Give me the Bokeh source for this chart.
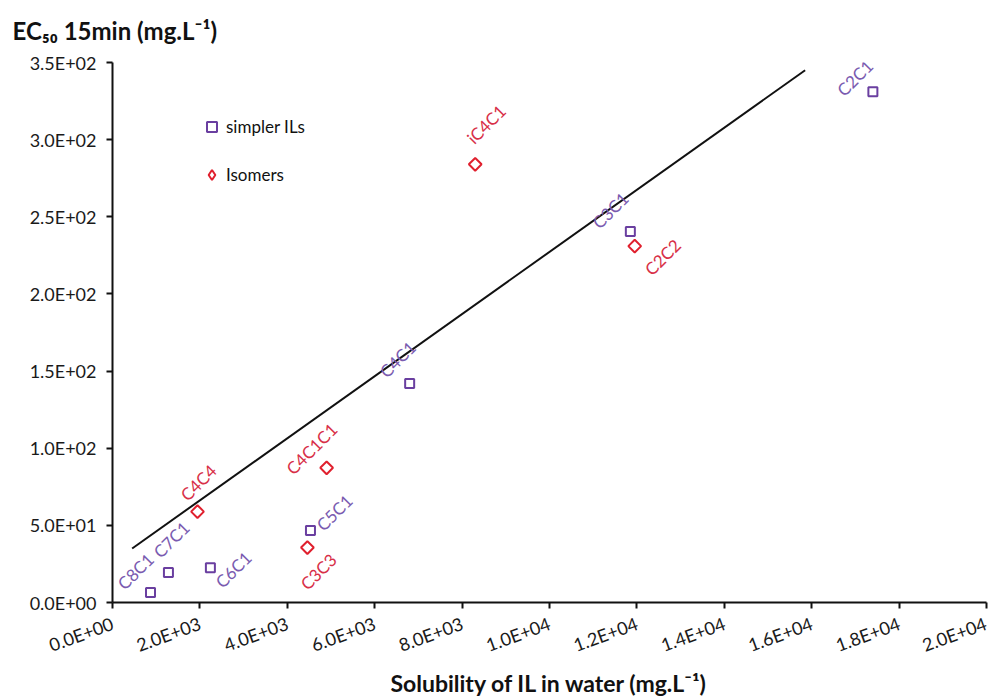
import numpy as np
from bokeh.plotting import figure
from bokeh.models import ColumnDataSource, FixedTicker, Legend, LegendItem, Range1d
from bokeh.core.properties import value
from bokeh.embed import file_html
from bokeh.resources import INLINE

# ---- data ----
simple_names = ["C8C1", "C7C1", "C6C1", "C5C1", "C4C1", "C3C1", "C2C1"]
simple_solubility = [870, 1280, 2240, 4530, 6800, 11850, 17400]
simple_ec50 = [6.5, 19.4, 22.6, 46.6, 142, 240.5, 331]

isomer_names = ["C4C4", "C3C3", "C4C1C1", "iC4C1", "C2C2"]
isomer_solubility = [1945, 4460, 4900, 8300, 11950]
isomer_ec50 = [58.9, 35.6, 87.3, 284, 231]

trend_x = [450, 15850]
trend_y = [35, 345]

x_ticks = [0, 2000, 4000, 6000, 8000, 10000, 12000, 14000, 16000, 18000, 20000]
x_tick_labels = ["0.0E+00", "2.0E+03", "4.0E+03", "6.0E+03", "8.0E+03", "1.0E+04",
                 "1.2E+04", "1.4E+04", "1.6E+04", "1.8E+04", "2.0E+04"]
y_ticks = [0, 50, 100, 150, 200, 250, 300, 350]
y_tick_labels = ["0.0E+00", "5.0E+01", "1.0E+02", "1.5E+02", "2.0E+02", "2.5E+02",
                 "3.0E+02", "3.5E+02"]

y_title = "EC\u2085\u2080 15min (mg.L\u207b\u00b9)"
x_title = "Solubility of IL in water (mg.L\u207b\u00b9)"

# label placement (screen pixel offsets, layout only)
simple_dx = [-15, 3, 23, 24, -12, -20, -18]
simple_dy = [-21, -33, 2, -18, -24, -21, -14]
isomer_dx = [1, 11, -15, 11, 28]
isomer_dy = [-29, 24, -19, -40, 11]

PURPLE = "#6a3fa0"
PURPLE_TXT = "#7a5bb0"
RED = "#e0202e"
RED_TXT = "#d83048"
FONT = "Lato"

simple_src = ColumnDataSource(dict(x=simple_solubility, y=simple_ec50, name=simple_names,
                                   dx=simple_dx, dy=simple_dy))
isomer_src = ColumnDataSource(dict(x=isomer_solubility, y=isomer_ec50, name=isomer_names,
                                   dx=isomer_dx, dy=isomer_dy))

p = figure(width=989, height=700, output_backend="svg", toolbar_location=None,
           x_range=Range1d(0, 20000), y_range=Range1d(0, 350),
           min_border_left=112, min_border_right=3, min_border_top=62, min_border_bottom=97)

# y-axis title sits above the axis, at the top-left of the chart
p.title.text = y_title
p.title.align = "left"
p.title.vertical_align = "top"
p.title.offset = -100
p.title.standoff = 31
p.title.text_font = FONT
p.title.text_font_size = "24px"
p.title.text_font_style = "bold"
p.title.text_color = "#111111"

p.xgrid.visible = False
p.ygrid.visible = False
p.outline_line_color = None
p.background_fill_color = "white"
p.border_fill_color = "white"

for ax in (p.xaxis[0], p.yaxis[0]):
    ax.axis_line_width = 2
    ax.axis_line_color = "#111111"
    ax.major_tick_line_width = 2
    ax.major_tick_line_color = "#111111"
    ax.major_tick_out = 6
    ax.major_tick_in = 0
    ax.minor_tick_line_color = None
    ax.major_label_text_font = FONT
    ax.major_label_text_font_size = "18px"
    ax.major_label_text_color = "#1a1a1a"

p.xaxis[0].ticker = FixedTicker(ticks=x_ticks)
p.xaxis[0].major_label_overrides = {t: l for t, l in zip(x_ticks, x_tick_labels)}
p.xaxis[0].major_label_orientation = 0.35
p.xaxis[0].major_label_standoff = 14
p.xaxis[0].axis_label = x_title
p.xaxis[0].axis_label_text_font = FONT
p.xaxis[0].axis_label_text_font_size = "23px"
p.xaxis[0].axis_label_text_font_style = "bold"
p.xaxis[0].axis_label_text_color = "#111111"
p.xaxis[0].axis_label_standoff = 0

p.yaxis[0].ticker = FixedTicker(ticks=y_ticks)
p.yaxis[0].major_label_overrides = {t: l for t, l in zip(y_ticks, y_tick_labels)}
p.yaxis[0].major_label_standoff = 10

p.line(trend_x, trend_y, line_color="#111111", line_width=2)

r_simple = p.scatter("x", "y", source=simple_src, marker="square", size=9,
                     line_color=PURPLE, line_width=2, fill_color="white")
r_iso = p.scatter("x", "y", source=isomer_src, marker="square", angle=np.pi / 4, size=9,
                  line_color=RED, line_width=2, fill_color="white")
# legend key for the isomer marker (legend glyphs ignore rotation); its point is NaN, so not drawn
r_iso_key = p.scatter([np.nan], [np.nan], marker="diamond", size=9,
                      line_color=RED, line_width=2, fill_color="white")

p.text("x", "y", text="name", source=simple_src, angle=np.pi / 4,
       x_offset="dx", y_offset="dy", text_align="center", text_baseline="middle",
       text_font=value(FONT), text_font_size="17px", text_color=PURPLE_TXT)
p.text("x", "y", text="name", source=isomer_src, angle=np.pi / 4,
       x_offset="dx", y_offset="dy", text_align="center", text_baseline="middle",
       text_font=value(FONT), text_font_size="17px", text_color=RED_TXT)

legend = Legend(items=[LegendItem(label="simpler ILs", renderers=[r_simple]),
                       LegendItem(label="Isomers", renderers=[r_iso_key])],
                location=(87, 415), padding=0, spacing=23,
                glyph_width=25, glyph_height=25, label_height=25, label_standoff=2,
                label_text_font=FONT, label_text_font_size="17px", label_text_color="#111111",
                border_line_alpha=0, background_fill_alpha=0)
p.add_layout(legend, "center")

open("out.html", "w").write(file_html(p, INLINE))
